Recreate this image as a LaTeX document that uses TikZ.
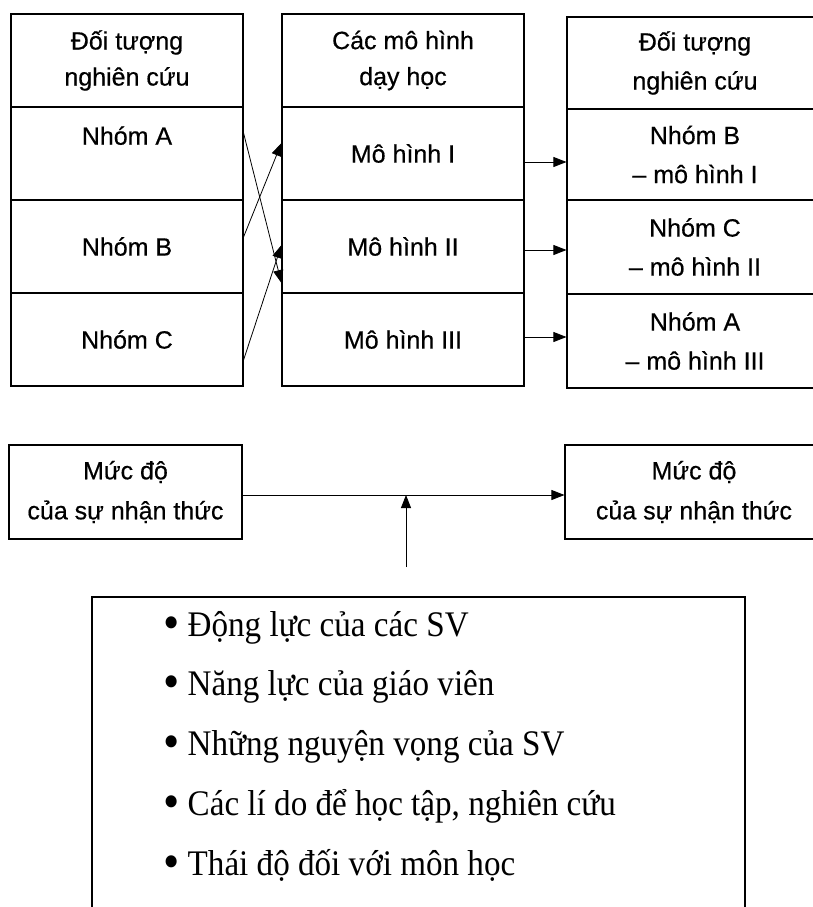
\documentclass[tikz,border=0pt]{standalone}
\usepackage{fontspec}
\setmainfont{Liberation Serif}
\setsansfont{Liberation Sans}[FakeBold=0.5]
\newfontfamily\listfont{Liberation Serif}[FakeStretch=0.92]
\usetikzlibrary{arrows.meta,calc}
\newcommand{\bigbul}{\raisebox{-0.1em}{\scalebox{1.4}{•}}}
\begin{document}
\begin{tikzpicture}[x=1pt,y=-1pt,
  cell/.style={draw,line width=1.1pt,inner sep=0pt,align=center,
    font=\sffamily\fontsize{25}{36}\selectfont},
  lcol/.style={cell,minimum width=232pt,minimum height=93pt},
  mcol/.style={cell,minimum width=242pt,minimum height=93pt},
  rcol/.style={cell,minimum width=256pt,font=\sffamily\fontsize{25}{39}\selectfont},
  conn/.style={line width=0.8pt,-{Triangle[length=13pt,width=10pt]}},
  listbox/.style={draw,line width=2.4pt,minimum width=653pt,minimum height=350pt,inner sep=0pt},
  item/.style={inner sep=0pt,font=\listfont\fontsize{36}{40}\selectfont}]
\useasboundingbox (0,0) rectangle (813,907);
% left column
\node[lcol] (L0) at (127,60.5) {Đối tượng\\nghiên cứu};
\node[lcol] (L1) at (127,153.5) {Nhóm A\\\mbox{}};
\node[lcol] (L2) at (127,246.5) {Nhóm B};
\node[lcol] (L3) at (127,339.5) {Nhóm C};
% middle column
\node[mcol] (M0) at (403,60.5) {Các mô hình\\dạy học};
\node[mcol] (M1) at (403,153.5) {Mô hình I};
\node[mcol] (M2) at (403,246.5) {Mô hình II};
\node[mcol] (M3) at (403,339.5) {Mô hình III};
% right column
\node[rcol,minimum height=92pt] (R0) at (695,63) {Đối tượng\\nghiên cứu};
\node[rcol,minimum height=91pt] (R1) at (695,154.5) {Nhóm B\\– mô hình I};
\node[rcol,minimum height=94pt] (R2) at (695,247) {Nhóm C\\– mô hình II};
\node[rcol,minimum height=94pt] (R3) at (695,341) {Nhóm A\\– mô hình III};
% crossing arrows
\draw[conn] ([yshift=20.5pt]L1.east) -- ([yshift=-36.5pt]M2.west);
\draw[conn] ([yshift=9.5pt]L2.east) -- ([yshift=10.5pt]M1.west);
\draw[conn] ([yshift=-20.5pt]L3.east) -- ([yshift=1.5pt]M2.west);
% horizontal arrows
\draw[conn] ([yshift=-8.5pt]M1.east) -- ([yshift=-8.5pt]M1.east -| R1.west);
\draw[conn] ([yshift=-3.5pt]M2.east) -- ([yshift=-3.5pt]M2.east -| R2.west);
\draw[conn] ([yshift=2.5pt]M3.east) -- ([yshift=2.5pt]M3.east -| R3.west);
% lower boxes
\node[cell,minimum width=233pt,minimum height=94pt,font=\sffamily\fontsize{25}{40}\selectfont] (BL) at (125.5,492) {Mức độ\\của sự nhận thức};
\node[cell,minimum width=258pt,minimum height=94pt,font=\sffamily\fontsize{25}{40}\selectfont] (BR) at (694,492) {Mức độ\\của sự nhận thức};
\draw[conn] ([yshift=-3pt]BL.east) -- ([yshift=-3pt]BL.east -| BR.west);
\coordinate (vs) at (406,567);
\coordinate (vt) at (406,495);
\draw[conn] (vs) -- (vt);
% factor list
\node[listbox] (box) at (418.5,772) {};
\foreach \t/\yy [count=\i] in {Động lực của các SV/636,Năng lực của giáo viên/695,Những nguyện vọng của SV/755,{Các lí do để học tập, nghiên cứu}/815,Thái độ đối với môn học/875}
  {\node[item,anchor=base west] (item\i) at (163,\yy) {\bigbul\ \t};}
\end{tikzpicture}
\end{document}
